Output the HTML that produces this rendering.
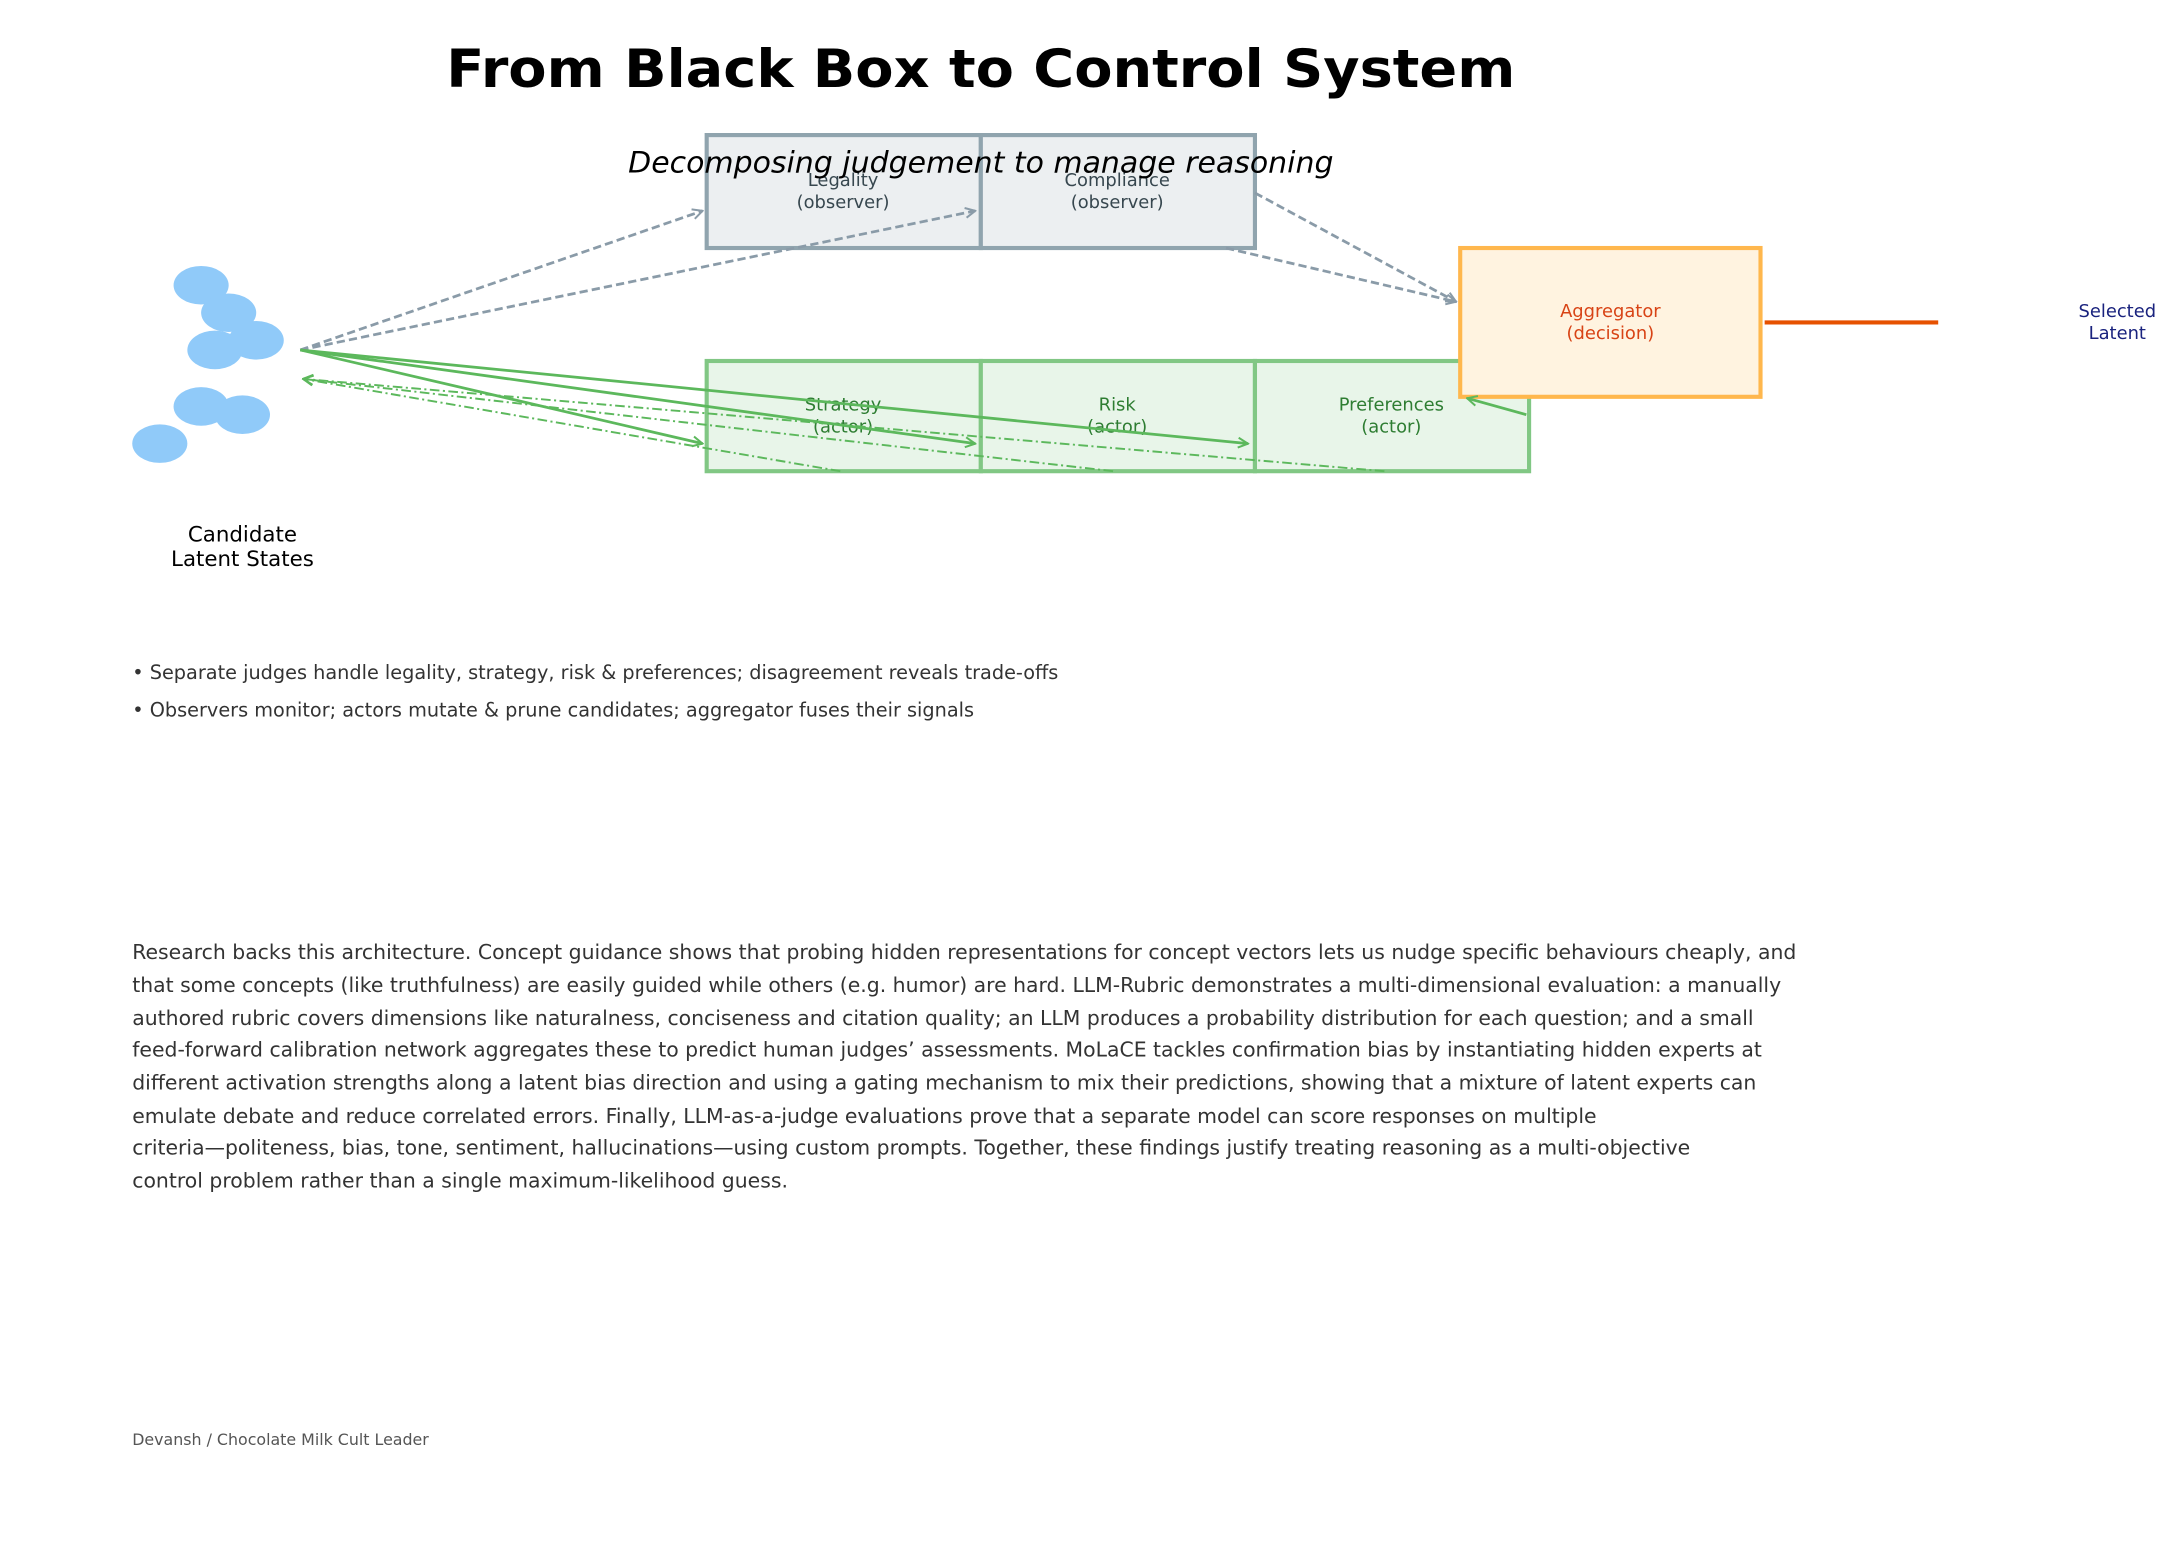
<!DOCTYPE html>
<html><head><meta charset="utf-8"><style>
html,body{margin:0;padding:0;background:#fff;}
svg{display:block;}
text{font-family:"DejaVu Sans","Liberation Sans",sans-serif;}
</style></head><body>
<svg width="2160" height="1543" viewBox="0 0 1568 1120" xmlns="http://www.w3.org/2000/svg">
<defs>
<marker id="ag" viewBox="0 0 10 10" refX="9" refY="5" markerWidth="9" markerHeight="9" markerUnits="userSpaceOnUse" orient="auto"><polyline points="1,1 9,5 1,9" fill="none" stroke="#8a9ba8" stroke-width="1.6"/></marker>
<marker id="agr" viewBox="0 0 10 10" refX="9" refY="5" markerWidth="9" markerHeight="9" markerUnits="userSpaceOnUse" orient="auto"><polyline points="1,1 9,5 1,9" fill="none" stroke="#5cb85c" stroke-width="1.6"/></marker>
</defs>
<rect width="1568" height="1120" fill="#fff"/>
<text x="712" y="63" font-size="38" font-weight="bold" text-anchor="middle" textLength="776" lengthAdjust="spacingAndGlyphs">From Black Box to Control System</text>

<!-- observer boxes -->
<rect x="513" y="98" width="199" height="82" fill="#ECEFF1" stroke="#90A4AE" stroke-width="3"/>
<rect x="712" y="98" width="199" height="82" fill="#ECEFF1" stroke="#90A4AE" stroke-width="3"/>
<g font-size="13" fill="#37474F" text-anchor="middle">
<text x="612" y="135">Legality</text><text x="612" y="151">(observer)</text>
<text x="811" y="135">Compliance</text><text x="811" y="151">(observer)</text>
</g>
<text x="712" y="125" font-size="21" font-style="italic" text-anchor="middle" textLength="512" lengthAdjust="spacingAndGlyphs">Decomposing judgement to manage reasoning</text>

<!-- actor boxes -->
<rect x="513" y="262" width="199" height="80" fill="#E8F5E9" stroke="#81C784" stroke-width="3"/>
<rect x="712" y="262" width="199" height="80" fill="#E8F5E9" stroke="#81C784" stroke-width="3"/>
<rect x="911" y="262" width="199" height="80" fill="#E8F5E9" stroke="#81C784" stroke-width="3"/>
<g font-size="13" fill="#2E7D32" text-anchor="middle">
<text x="612" y="298">Strategy</text><text x="612" y="314">(actor)</text>
<text x="811" y="298">Risk</text><text x="811" y="314">(actor)</text>
<text x="1010" y="298">Preferences</text><text x="1010" y="314">(actor)</text>
</g>

<!-- aggregator -->
<rect x="1060" y="180" width="218" height="108" fill="#FFF3E0" stroke="#FFB74D" stroke-width="3"/>
<g font-size="13" fill="#D84315" text-anchor="middle">
<text x="1169" y="230">Aggregator</text><text x="1169" y="246">(decision)</text>
</g>
<line x1="1281" y1="234" x2="1407" y2="234" stroke="#E65100" stroke-width="3"/>
<g font-size="13" fill="#1A237E" text-anchor="middle">
<text x="1537" y="230">Selected</text><text x="1537" y="246">Latent</text>
</g>

<!-- candidates -->
<g fill="#90CAF9">
<ellipse cx="146" cy="207" rx="20" ry="14"/>
<ellipse cx="166" cy="227" rx="20" ry="14"/>
<ellipse cx="186" cy="247" rx="20" ry="14"/>
<ellipse cx="156" cy="254" rx="20" ry="14"/>
<ellipse cx="146" cy="295" rx="20" ry="14"/>
<ellipse cx="176" cy="301" rx="20" ry="14"/>
<ellipse cx="116" cy="322" rx="20" ry="14"/>
</g>
<g font-size="15.5" fill="#000" text-anchor="middle">
<text x="176" y="393">Candidate</text><text x="176" y="411">Latent States</text>
</g>

<!-- gray dashed -->
<g stroke="#8a9ba8" stroke-width="2" stroke-dasharray="6 3" fill="none" marker-end="url(#ag)">
<line x1="218" y1="254" x2="510" y2="153"/>
<line x1="218" y1="254" x2="708" y2="153"/>
<line x1="911" y1="140" x2="1057" y2="219"/>
<line x1="890" y1="180" x2="1057" y2="219"/>
</g>
<!-- green solid -->
<g stroke="#5cb85c" stroke-width="2" fill="none" marker-end="url(#agr)">
<line x1="218" y1="254" x2="510" y2="322"/>
<line x1="218" y1="254" x2="708" y2="322"/>
<line x1="218" y1="254" x2="906" y2="322"/>
<line x1="1108" y1="301" x2="1065" y2="289"/>
</g>
<!-- green dash-dot -->
<g stroke="#5cb85c" stroke-width="1.4" stroke-dasharray="7 2.5 1.5 2.5" fill="none" marker-end="url(#agr)">
<line x1="610" y1="342" x2="220" y2="275"/>
<line x1="808" y1="342" x2="220" y2="275"/>
<line x1="1005" y1="342" x2="220" y2="275"/>
</g>

<!-- bullets -->
<g font-size="14" fill="#333">
<text x="96" y="493">• Separate judges handle legality, strategy, risk &amp; preferences; disagreement reveals trade-offs</text>
<text x="96" y="520">• Observers monitor; actors mutate &amp; prune candidates; aggregator fuses their signals</text>
</g>

<!-- paragraph -->
<g font-size="14.5" fill="#333">
<text x="96" y="696" textLength="1208" lengthAdjust="spacingAndGlyphs">Research backs this architecture. Concept guidance shows that probing hidden representations for concept vectors lets us nudge specific behaviours cheaply, and</text>
<text x="96" y="720" textLength="1197" lengthAdjust="spacingAndGlyphs">that some concepts (like truthfulness) are easily guided while others (e.g. humor) are hard. LLM-Rubric demonstrates a multi-dimensional evaluation: a manually</text>
<text x="96" y="744" textLength="1177" lengthAdjust="spacingAndGlyphs">authored rubric covers dimensions like naturalness, conciseness and citation quality; an LLM produces a probability distribution for each question; and a small</text>
<text x="96" y="767" textLength="1183" lengthAdjust="spacingAndGlyphs">feed-forward calibration network aggregates these to predict human judges’ assessments. MoLaCE tackles confirmation bias by instantiating hidden experts at</text>
<text x="96" y="791" textLength="1179" lengthAdjust="spacingAndGlyphs">different activation strengths along a latent bias direction and using a gating mechanism to mix their predictions, showing that a mixture of latent experts can</text>
<text x="96" y="815" textLength="1063" lengthAdjust="spacingAndGlyphs">emulate debate and reduce correlated errors. Finally, LLM-as-a-judge evaluations prove that a separate model can score responses on multiple</text>
<text x="96" y="838" textLength="1131" lengthAdjust="spacingAndGlyphs">criteria—politeness, bias, tone, sentiment, hallucinations—using custom prompts. Together, these findings justify treating reasoning as a multi-objective</text>
<text x="96" y="862" textLength="476" lengthAdjust="spacingAndGlyphs">control problem rather than a single maximum-likelihood guess.</text>
</g>
<text x="96" y="1049" font-size="11.5" fill="#555">Devansh / Chocolate Milk Cult Leader</text>
</svg>
</body></html>
